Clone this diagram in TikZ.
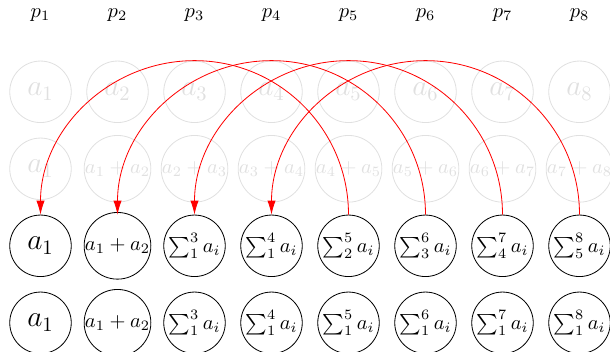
\documentclass[tikz,border=0pt]{standalone}
\usetikzlibrary{arrows.meta,calc}
\begin{document}
\begin{tikzpicture}[x=0.4878pt,y=-0.4878pt,
  cell/.style={circle,draw,minimum size=30pt,inner sep=0pt},
  faded/.style={cell,draw=black!12,text=black!12},
  plabel/.style={inner sep=0pt},
  jump/.style={red,-{Latex[length=6.8pt,width=4pt]}}]
\useasboundingbox (0,0) rectangle (610,352);
% column labels
\foreach \j in {1,...,8}{
  \node[plabel] (p\j) at ({40.5+77*(\j-1)},15) {$p_{\j}$};
}
% row 1 (faded)
\foreach \j in {1,...,8}{
  \node[faded] (f\j) at ({40.5+77*(\j-1)},91.8) {\Large $a_{\j}$};
}
% row 2 (faded)
\node[faded] (g1) at (40.5,168.8) {\Large $a_1$};
\foreach \j [evaluate=\j as \k using int(\j-1)] in {2,...,8}{
  \node[faded] (g\j) at ({40.5+77*(\j-1)},168.8) {$a_{\k}+a_{\j}$};
}
% row 3
\node[cell] (r1) at (40.5,245.8) {\Large $a_1$};
\node[cell] (r2) at (117.5,245.8) {$a_1+a_2$};
\node[cell] (r3) at (194.5,245.8) {$\sum_1^3 a_i$};
\node[cell] (r4) at (271.5,245.8) {$\sum_1^4 a_i$};
\node[cell] (r5) at (348.5,245.8) {$\sum_2^5 a_i$};
\node[cell] (r6) at (425.5,245.8) {$\sum_3^6 a_i$};
\node[cell] (r7) at (502.5,245.8) {$\sum_4^7 a_i$};
\node[cell] (r8) at (579.5,245.8) {$\sum_5^8 a_i$};
% row 4
\node[cell] (s1) at (40.5,322.8) {\Large $a_1$};
\node[cell] (s2) at (117.5,322.8) {$a_1+a_2$};
\foreach \j in {3,...,8}{
  \node[cell] (s\j) at ({40.5+77*(\j-1)},322.8) {$\sum_1^{\j} a_i$};
}
% arcs
\foreach \a/\b in {5/1,6/2,7/3,8/4}{
  \draw[jump] let \p1=($(r\a.north)-(r\b.north)$) in
    (r\a.north) arc[start angle=0,end angle=180,radius=0.5*\x1];
}
\end{tikzpicture}
\end{document}
